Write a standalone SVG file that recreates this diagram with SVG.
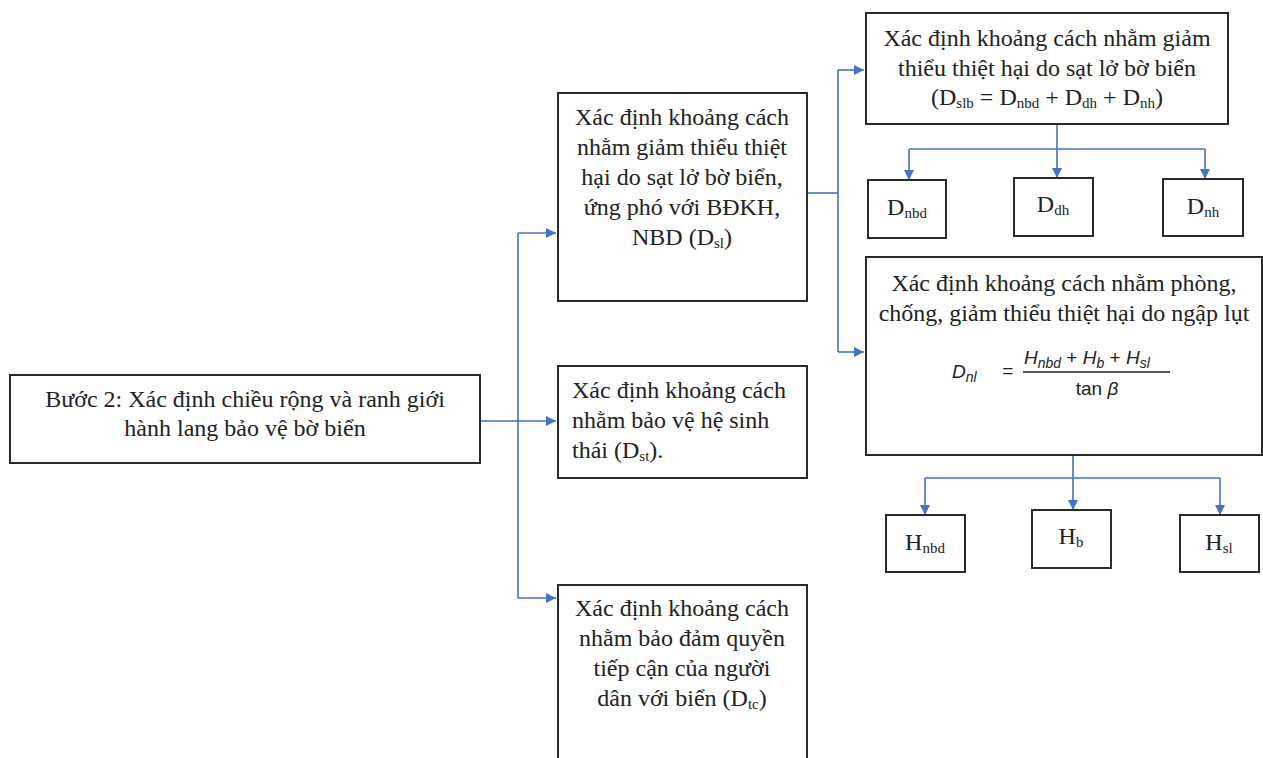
<svg xmlns="http://www.w3.org/2000/svg" width="1263" height="758" viewBox="0 0 1263 758">
<defs>
<marker id="arr" viewBox="0 0 10 10" refX="10" refY="5" markerWidth="10" markerHeight="10" markerUnits="userSpaceOnUse" orient="auto">
<path d="M0,0 L10,5 L0,10 z" fill="#4472C4"/>
</marker>
<style>
.box{fill:#fff;stroke:#2b2b2b;stroke-width:2}
.t{font-family:"Liberation Serif","Times New Roman",serif;font-size:24px;fill:#222}
.c{text-anchor:middle}
.s{font-size:15px}
.f{font-family:"Liberation Sans",Arial,sans-serif;font-size:19px;fill:#222;font-style:italic}
.fs{font-size:14px}
.ln{fill:none;stroke:#4472C4;stroke-width:1.6}
</style>
</defs>
<rect width="1263" height="758" fill="#fff"/>
<g id="connectors">
<path class="ln" d="M480,421 H518"/>
<path class="ln" d="M518,233 V598"/>
<path class="ln" d="M518,233 H556" marker-end="url(#arr)"/>
<path class="ln" d="M518,421 H556" marker-end="url(#arr)"/>
<path class="ln" d="M518,598 H556" marker-end="url(#arr)"/>
<path class="ln" d="M807,193 H838"/>
<path class="ln" d="M838,70 V352"/>
<path class="ln" d="M838,70 H864" marker-end="url(#arr)"/>
<path class="ln" d="M838,352 H864" marker-end="url(#arr)"/>
<path class="ln" d="M1057,124 V178" marker-end="url(#arr)"/>
<path class="ln" d="M909,149 H1205"/>
<path class="ln" d="M909,149 V180" marker-end="url(#arr)"/>
<path class="ln" d="M1205,149 V179" marker-end="url(#arr)"/>
<path class="ln" d="M1073,455 V510" marker-end="url(#arr)"/>
<path class="ln" d="M925,478 H1220"/>
<path class="ln" d="M925,478 V515" marker-end="url(#arr)"/>
<path class="ln" d="M1220,478 V515" marker-end="url(#arr)"/>
</g>
<g id="n_main">
<rect class="box" x="10" y="375" width="470" height="88"/>
<text class="t c" x="245" y="407">Bước 2: Xác định chiều rộng và ranh giới</text>
<text class="t c" x="245" y="436">hành lang bảo vệ bờ biển</text>
</g>
<g id="n_dsl">
<rect class="box" x="558" y="93" width="249" height="208"/>
<text class="t c" x="682" y="125">Xác định khoảng cách</text>
<text class="t c" x="682" y="155">nhằm giảm thiểu thiệt</text>
<text class="t c" x="682" y="185">hại do sạt lở bờ biển,</text>
<text class="t c" x="682" y="215">ứng phó với BĐKH,</text>
<text class="t c" x="682" y="245">NBD (D<tspan class="s" dy="3">sl</tspan><tspan dy="-3">)</tspan></text>
</g>
<g id="n_dst">
<rect class="box" x="558" y="366" width="249" height="112"/>
<text class="t" x="572" y="398">Xác định khoảng cách</text>
<text class="t" x="572" y="428">nhằm bảo vệ hệ sinh</text>
<text class="t" x="572" y="458">thái (D<tspan class="s" dy="3">st</tspan><tspan dy="-3">).</tspan></text>
</g>
<g id="n_dtc">
<rect class="box" x="558" y="585" width="249" height="180"/>
<text class="t c" x="682" y="616">Xác định khoảng cách</text>
<text class="t c" x="682" y="646">nhằm bảo đảm quyền</text>
<text class="t c" x="682" y="676">tiếp cận của người</text>
<text class="t c" x="682" y="706">dân với biển (D<tspan class="s" dy="3">tc</tspan><tspan dy="-3">)</tspan></text>
</g>
<g id="n_dslb">
<rect class="box" x="866" y="13" width="362" height="111"/>
<text class="t c" x="1047" y="46">Xác định khoảng cách nhằm giảm</text>
<text class="t c" x="1047" y="76">thiểu thiệt hại do sạt lở bờ biển</text>
<text class="t c" x="1047" y="105">(D<tspan class="s" dy="3">slb</tspan><tspan dy="-3"> = D</tspan><tspan class="s" dy="3">nbd</tspan><tspan dy="-3"> + D</tspan><tspan class="s" dy="3">dh</tspan><tspan dy="-3"> + D</tspan><tspan class="s" dy="3">nh</tspan><tspan dy="-3">)</tspan></text>
</g>
<g id="n_dnbd">
<rect class="box" x="868" y="180" width="78" height="58"/>
<text class="t c" x="907" y="215">D<tspan class="s" dy="3">nbd</tspan></text>
</g>
<g id="n_ddh">
<rect class="box" x="1014" y="178" width="79" height="58"/>
<text class="t c" x="1053" y="212">D<tspan class="s" dy="3">dh</tspan></text>
</g>
<g id="n_dnh">
<rect class="box" x="1163" y="179" width="80" height="57"/>
<text class="t c" x="1203" y="214">D<tspan class="s" dy="3">nh</tspan></text>
</g>
<g id="n_dnl">
<rect class="box" x="866" y="257" width="396" height="198"/>
<text class="t c" x="1064" y="291">Xác định khoảng cách nhằm phòng,</text>
<text class="t c" x="1064" y="321">chống, giảm thiểu thiệt hại do ngập lụt</text>
<text class="f" x="952" y="378">D<tspan class="fs" dy="4">nl</tspan></text>
<text class="f" x="1002" y="377" font-style="normal">=</text>
<text class="f" x="1024" y="364">H<tspan class="fs" dy="4">nbd</tspan><tspan dy="-4" font-style="normal"> + </tspan>H<tspan class="fs" dy="4">b</tspan><tspan dy="-4" font-style="normal"> + </tspan>H<tspan class="fs" dy="4">sl</tspan></text>
<line x1="1023" y1="372" x2="1170" y2="372" stroke="#222" stroke-width="1.3"/>
<text class="f" x="1097" y="395" text-anchor="middle"><tspan font-style="normal">tan </tspan>β</text>
</g>
<g id="n_hnbd">
<rect class="box" x="886" y="515" width="79" height="57"/>
<text class="t c" x="925" y="550">H<tspan class="s" dy="3">nbd</tspan></text>
</g>
<g id="n_hb">
<rect class="box" x="1032" y="510" width="79" height="58"/>
<text class="t c" x="1071" y="544">H<tspan class="s" dy="3">b</tspan></text>
</g>
<g id="n_hsl">
<rect class="box" x="1180" y="515" width="79" height="57"/>
<text class="t c" x="1219" y="550">H<tspan class="s" dy="3">sl</tspan></text>
</g>
</svg>
